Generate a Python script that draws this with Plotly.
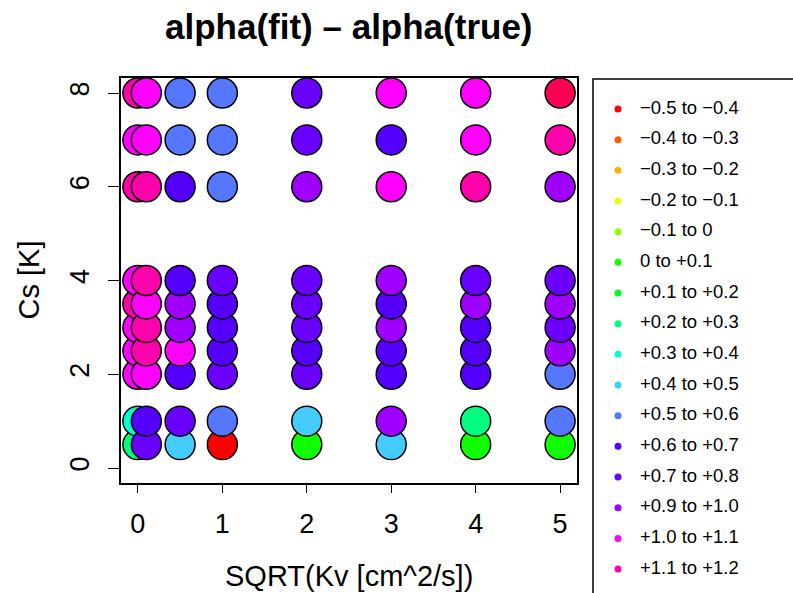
import plotly.graph_objects as go

W, H = 793, 593
FONT = "Liberation Sans, Arial, sans-serif"

# ---- data ----
x_vals = [0, 0.1, 0.5, 1, 2, 3, 4, 5]          # SQRT(Kv)
y_vals = [0.5, 1, 2, 2.5, 3, 3.5, 4, 6, 7, 8]   # Cs [K]

# alpha(fit) - alpha(true), rows = y_vals, columns = x_vals (bin mid values)
diff = [
    [0.25, 0.75, 0.45, -0.45, 0.05, 0.45, 0.05, 0.05],   # Cs 0.5
    [0.35, 0.65, 0.75, 0.55, 0.45, 0.95, 0.25, 0.55],    # Cs 1
    [1.05, 1.05, 0.65, 0.75, 0.75, 0.65, 0.65, 0.55],    # Cs 2
    [1.05, 1.15, 1.05, 0.65, 0.65, 0.65, 0.65, 0.95],    # Cs 2.5
    [1.05, 1.15, 0.95, 0.65, 0.75, 0.95, 0.65, 0.75],    # Cs 3
    [1.15, 1.05, 0.95, 0.65, 0.75, 0.65, 0.95, 0.95],    # Cs 3.5
    [1.05, 1.15, 0.65, 0.75, 0.75, 0.95, 0.75, 0.75],    # Cs 4
    [1.15, 1.15, 0.65, 0.55, 0.95, 1.05, 1.15, 0.95],    # Cs 6
    [1.05, 1.05, 0.55, 0.55, 0.75, 0.65, 1.05, 1.15],    # Cs 7
    [1.15, 1.05, 0.55, 0.55, 0.75, 1.05, 1.05, 1.25],    # Cs 8
]

bin_lo = [-0.5, -0.4, -0.3, -0.2, -0.1, 0.0, 0.1, 0.2, 0.3, 0.4, 0.5, 0.6, 0.7, 0.9, 1.0, 1.1, 1.2]
bin_hi = [-0.4, -0.3, -0.2, -0.1, 0.0, 0.1, 0.2, 0.3, 0.4, 0.5, 0.6, 0.7, 0.8, 1.0, 1.1, 1.2, 1.3]
bin_colors = ["#FF0000", "#FF5A00", "#FFB000", "#E8FF00", "#8CFF00", "#10FF00",
              "#00FF20", "#00FF80", "#00FFD0", "#45CCFF", "#5577FF", "#5500FF",
              "#6A00FF", "#9F00FF", "#FF00FF", "#FF00AA", "#FF0055"]
legend_labels = ["\u22120.5 to \u22120.4", "\u22120.4 to \u22120.3", "\u22120.3 to \u22120.2",
                 "\u22120.2 to \u22120.1", "\u22120.1 to 0", "0 to +0.1", "+0.1 to +0.2",
                 "+0.2 to +0.3", "+0.3 to +0.4", "+0.4 to +0.5", "+0.5 to +0.6",
                 "+0.6 to +0.7", "+0.7 to +0.8", "+0.9 to +1.0", "+1.0 to +1.1",
                 "+1.1 to +1.2"]

x_ticks = [0, 1, 2, 3, 4, 5]
y_ticks = [0, 2, 4, 6, 8]


def color_of(v):
    for lo, hi, c in zip(bin_lo, bin_hi, bin_colors):
        if lo <= v < hi:
            return c
    return bin_colors[-1]


px, py, pc = [], [], []
for j, xv in enumerate(x_vals):
    for i, yv in enumerate(y_vals):
        px.append(xv)
        py.append(yv)
        pc.append(color_of(diff[i][j]))

fig = go.Figure()
fig.add_trace(go.Scatter(
    x=px, y=py, mode="markers", showlegend=False, cliponaxis=False,
    marker=dict(size=30, color=pc, line=dict(color="black", width=1.5)),
    xaxis="x", yaxis="y"))

# legend drawn as its own small panel
n = len(legend_labels)
idx = list(range(n))
fig.add_trace(go.Scatter(
    x=[25] * n, y=idx, mode="markers", showlegend=False,
    marker=dict(size=7, color=bin_colors[:n]), xaxis="x2", yaxis="y2"))
fig.add_trace(go.Scatter(
    x=[47] * n, y=idx, mode="text", text=legend_labels, textposition="middle right",
    textfont=dict(family=FONT, size=18.5, color="black"), showlegend=False,
    xaxis="x2", yaxis="y2"))

# pixel helpers for layout geometry
L, R, T, B = 121, 577, 78, 483
row0, step = 109, 30.67

fig.update_layout(
    width=W, height=H, margin=dict(l=0, r=0, t=0, b=0),
    paper_bgcolor="white", plot_bgcolor="white",
    font=dict(family=FONT, color="black"),
    xaxis=dict(domain=[L / W, R / W], range=[-0.2, 5.2], tickvals=x_ticks,
               ticktext=[str(t) for t in x_ticks], ticks="outside", ticklen=8,
               tickwidth=1, tickcolor="black", showgrid=False, zeroline=False,
               showline=True, linecolor="black", linewidth=1.5, mirror=True,
               tickfont=dict(size=27), ticklabelstandoff=8),
    yaxis=dict(domain=[(H - B) / H, (H - T) / H], range=[-0.32, 8.32], tickvals=y_ticks,
               ticktext=[str(t) for t in y_ticks], ticks="outside", ticklen=11,
               tickwidth=1, tickcolor="black", showgrid=False, zeroline=False,
               showline=True, linecolor="black", linewidth=1.5, mirror=True,
               tickangle=-90, tickfont=dict(size=27), ticklabelstandoff=8),
    xaxis2=dict(domain=[593 / W, 1], range=[0, 200], visible=False, fixedrange=True),
    yaxis2=dict(domain=[0, 1], range=[(H - row0) / step, -row0 / step],
                visible=False, fixedrange=True),
    shapes=[dict(type="rect", xref="paper", yref="paper",
                 x0=593 / W, x1=1.02, y0=-0.02, y1=(H - 79) / H,
                 line=dict(color="black", width=1.5), fillcolor="rgba(0,0,0,0)")],
    annotations=[
        dict(text="<b>alpha(fit) \u2013 alpha(true)</b>", x=(L + R) / 2 / W, y=1 - 27 / H,
             xref="paper", yref="paper", xanchor="center", yanchor="middle",
             showarrow=False, font=dict(size=35)),
        dict(text="SQRT(Kv [cm^2/s])", x=(L + R) / 2 / W, y=1 - 576 / H,
             xref="paper", yref="paper", xanchor="center", yanchor="middle",
             showarrow=False, font=dict(size=29)),
        dict(text="Cs [K]", x=28 / W, y=1 - (T + B) / 2 / H, textangle=-90,
             xref="paper", yref="paper", xanchor="center", yanchor="middle",
             showarrow=False, font=dict(size=29)),
    ],
)

fig.write_html("out.html")
